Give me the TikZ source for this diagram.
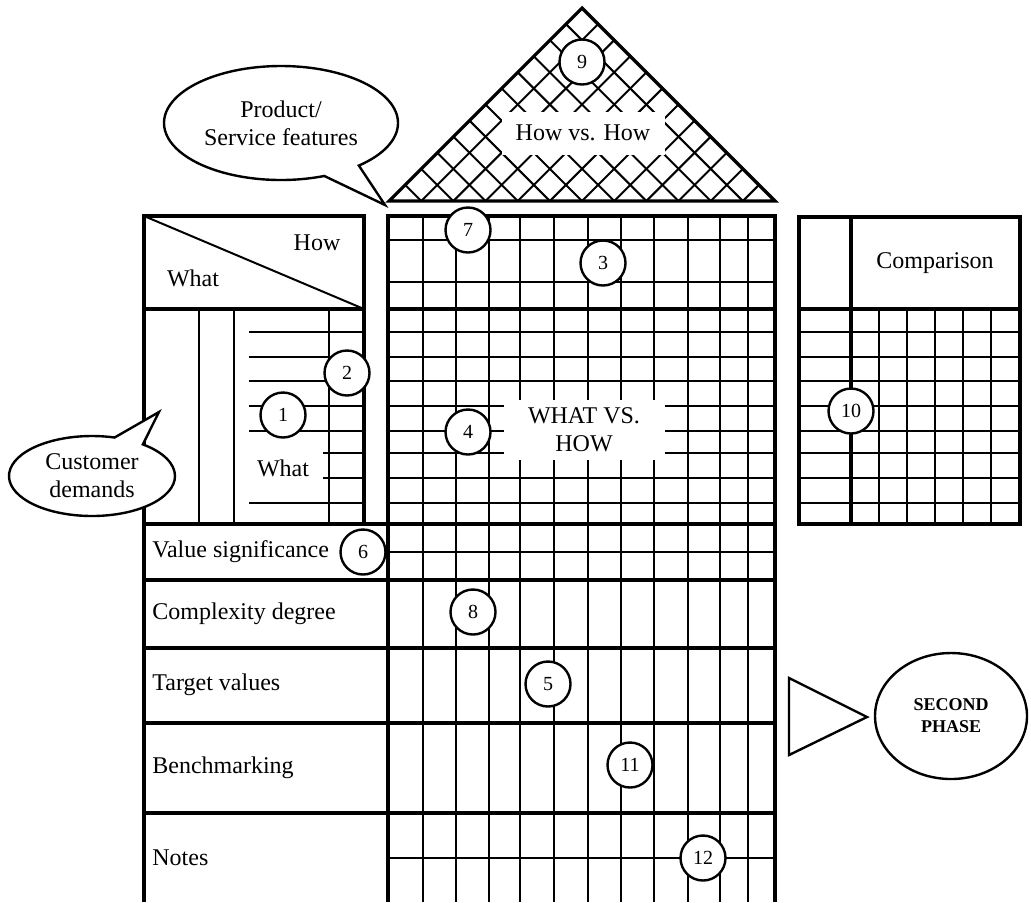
\documentclass[tikz,border=0pt]{standalone}
\usepackage{fontspec}
\setmainfont{Liberation Serif}
\usetikzlibrary{shapes.geometric, shapes.callouts}

\begin{document}
\begin{tikzpicture}[
    x=0.5pt, y=-0.5pt,
    font=\fontsize{12}{14}\selectfont,
    gridline/.style={line width=1pt},
    border/.style={line width=1.6pt},
    num/.style={
      circle, draw, fill=white, line width=1.2pt,
      minimum size=22.5pt, inner sep=0pt, font=\fontsize{10}{12}\selectfont
    },
    rowlabel/.style={anchor=west, inner sep=0pt},
    blank/.style={fill=white, inner sep=0pt, align=center},
    bubble/.style={
      ellipse callout, draw, fill=white, line width=1.2pt,
      align=center, inner sep=1pt
    },
  ]
  \useasboundingbox (0,0) rectangle (1031,902);

  % roof: correlation triangle with cross hatching
  \begin{scope}
    \clip (389,201) -- (582,8) -- (775,201) -- cycle;
    \foreach \k in {1,...,11} {
      \draw[gridline] ({389+32.17*\k},201) -- ++(200,-200);
      \draw[gridline] ({389+32.17*\k},201) -- ++(-200,-200);
    }
  \end{scope}
  \draw[border] (389,201) -- (582,8) -- (775,201) -- cycle;

  % main matrix and the rows below it
  \foreach \x in {423,456,489,520,554,588,621,654,688,720,748}
    \draw[gridline] (\x,216) -- (\x,902);
  \foreach \y in {240,282,332,357,381,406,431,453,478,503,552,858}
    \draw[gridline] (388,\y) -- (775,\y);
  \draw[border] (388,902) -- (388,216) -- (775,216) -- (775,902);
  \draw[border] (388,309) -- (775,309);
  \foreach \y in {524,580,648,723,813}
    \draw[border] (144,\y) -- (775,\y);
  \draw[border] (144,524) -- (144,902);

  % left block
  \draw[border] (144,216) rectangle (364,524);
  \draw[border] (144,309) -- (364,309);
  \draw[gridline] (144,216) -- (364,309);
  \foreach \x in {199,234,329}
    \draw[gridline] (\x,309) -- (\x,524);
  \foreach \y in {332,357,381,406,431,503}
    \draw[gridline] (249,\y) -- (364,\y);
  \foreach \y in {453,478}
    \draw[gridline] (323,\y) -- (364,\y);

  % right block
  \draw[border] (799,217) rectangle (1020,524);
  \draw[border] (799,309) -- (1020,309);
  \draw[border] (851,217) -- (851,524);
  \foreach \x in {879,907,935,963,991}
    \draw[gridline] (\x,309) -- (\x,524);
  \foreach \y in {332,357,381,406,431,453,478,503}
    \draw[gridline] (799,\y) -- (1020,\y);

  % headings
  \node (how) at (317,243) {How};
  \node (what) at (193,278) {What};
  \node (whatlist) at (283,468) {What};
  \node (cmp) at (935,263) {Comparison};
  \node[blank, minimum width=81.5pt, minimum height=21.5pt] (hvh) at (583,133) {How vs. How};
  \node[blank, minimum width=80.5pt, minimum height=30pt] (wvh) at (584,430) {WHAT VS.\\HOW};

  \node[rowlabel] (vsig) at (152,552) {Value significance};
  \node[rowlabel] (cdeg) at (152,614) {Complexity degree};
  \node[rowlabel] (tval) at (152,685) {Target values};
  \node[rowlabel] (bench) at (152,768) {Benchmarking};
  \node[rowlabel] (notes) at (152,858) {Notes};

  % numbered markers
  \node[num] (n1) at (283,415) {1};
  \node[num] (n2) at (347,373) {2};
  \node[num] (n3) at (603,263) {3};
  \node[num] (n4) at (468,432) {4};
  \node[num] (n5) at (548,684) {5};
  \node[num] (n6) at (363,552) {6};
  \node[num] (n7) at (468,230) {7};
  \node[num] (n8) at (473,612) {8};
  \node[num] (n9) at (582,62) {9};
  \node[num] (n10) at (851,411) {10};
  \node[num] (n11) at (630,765) {11};
  \node[num] (n12) at (703,858) {12};

  % speech bubbles
  \node[bubble, minimum width=117pt, minimum height=57pt, callout pointer arc=20,
    callout absolute pointer={(385,205)}] (feat) at (281,123) {Product/\\Service features};
  \node[bubble, minimum width=83pt, minimum height=40pt, callout pointer arc=22,
    callout absolute pointer={(159,412)}] (cust) at (92,476) {Customer\\demands};

  % next phase
  \draw[line width=1.2pt] (789,678) -- (867,717) -- (789,755) -- cycle;
  \node[ellipse, draw, line width=1.2pt, minimum width=76pt, minimum height=63pt,
    align=center, font=\bfseries\fontsize{9}{11}\selectfont] (phase2) at (951,716) {SECOND\\PHASE};
\end{tikzpicture}
\end{document}
